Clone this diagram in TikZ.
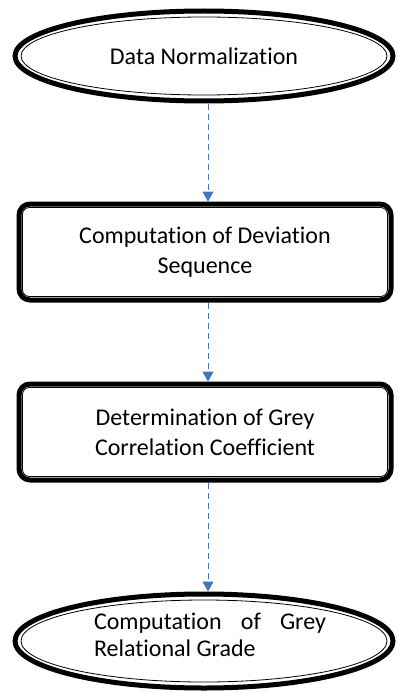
\documentclass[tikz,border=0pt]{standalone}
\usepackage{fontspec}
\setmainfont[Ligatures=CommonOff]{Carlito}
\usetikzlibrary{shapes.geometric,arrows.meta}
\definecolor{arrowblue}{HTML}{4472C4}
\tikzset{
  x=1pt,y=1pt,
  outerline/.style={draw=black,line width=5pt,fill=white,inner sep=0pt,font=\fontsize{24}{30}\selectfont,align=center},
  ellipsebox/.style={outerline,ellipse},
  rectbox/.style={outerline,rectangle,rounded corners=11pt},
  innerline/.style={draw=black,line width=0.8pt},
  flowarrow/.style={draw=arrowblue,line width=1pt,dash pattern=on 6pt off 4pt,-{Triangle[length=10pt,width=11pt]}}
}
\begin{document}
\begin{tikzpicture}
\useasboundingbox (0,0) rectangle (398,-693);
% nodes
\node[ellipsebox,minimum width=378pt,minimum height=90pt] (e1) at (204,-56) {Data Normalization};
\draw[innerline] (e1.center) ellipse [x radius=183pt, y radius=39pt];

\node[rectbox,minimum width=372pt,minimum height=96pt] (b1) at (205,-252) {Computation of Deviation\\Sequence};
\draw[innerline,rounded corners=7pt] ([xshift=6pt,yshift=6pt]b1.south west) rectangle ([xshift=-6pt,yshift=-6pt]b1.north east);

\node[rectbox,minimum width=372pt,minimum height=96pt] (b2) at (205,-432) {Determination of Grey\\Correlation Coefficient};
\draw[innerline,rounded corners=7pt] ([xshift=6pt,yshift=6pt]b2.south west) rectangle ([xshift=-6pt,yshift=-6pt]b2.north east);

\node[ellipsebox,minimum width=378pt,minimum height=94pt] (e2) at (204,-641) {\hspace*{12pt}\raisebox{6pt}[\height][\depth]{\parbox{232pt}{\fontsize{24}{26.5}\selectfont Computation\hfill of\hfill Grey\\Relational Grade}}};
\draw[innerline] (e2.center) ellipse [x radius=183pt, y radius=41pt];

% connectors
\draw[flowarrow] (e1.south -| 208,0) -- (b1.north -| 208,0);
\draw[flowarrow] (b1.south -| 208,0) -- (b2.north -| 208,0);
\draw[flowarrow] (b2.south -| 208,0) -- (e2.north -| 208,0);
\end{tikzpicture}
\end{document}
